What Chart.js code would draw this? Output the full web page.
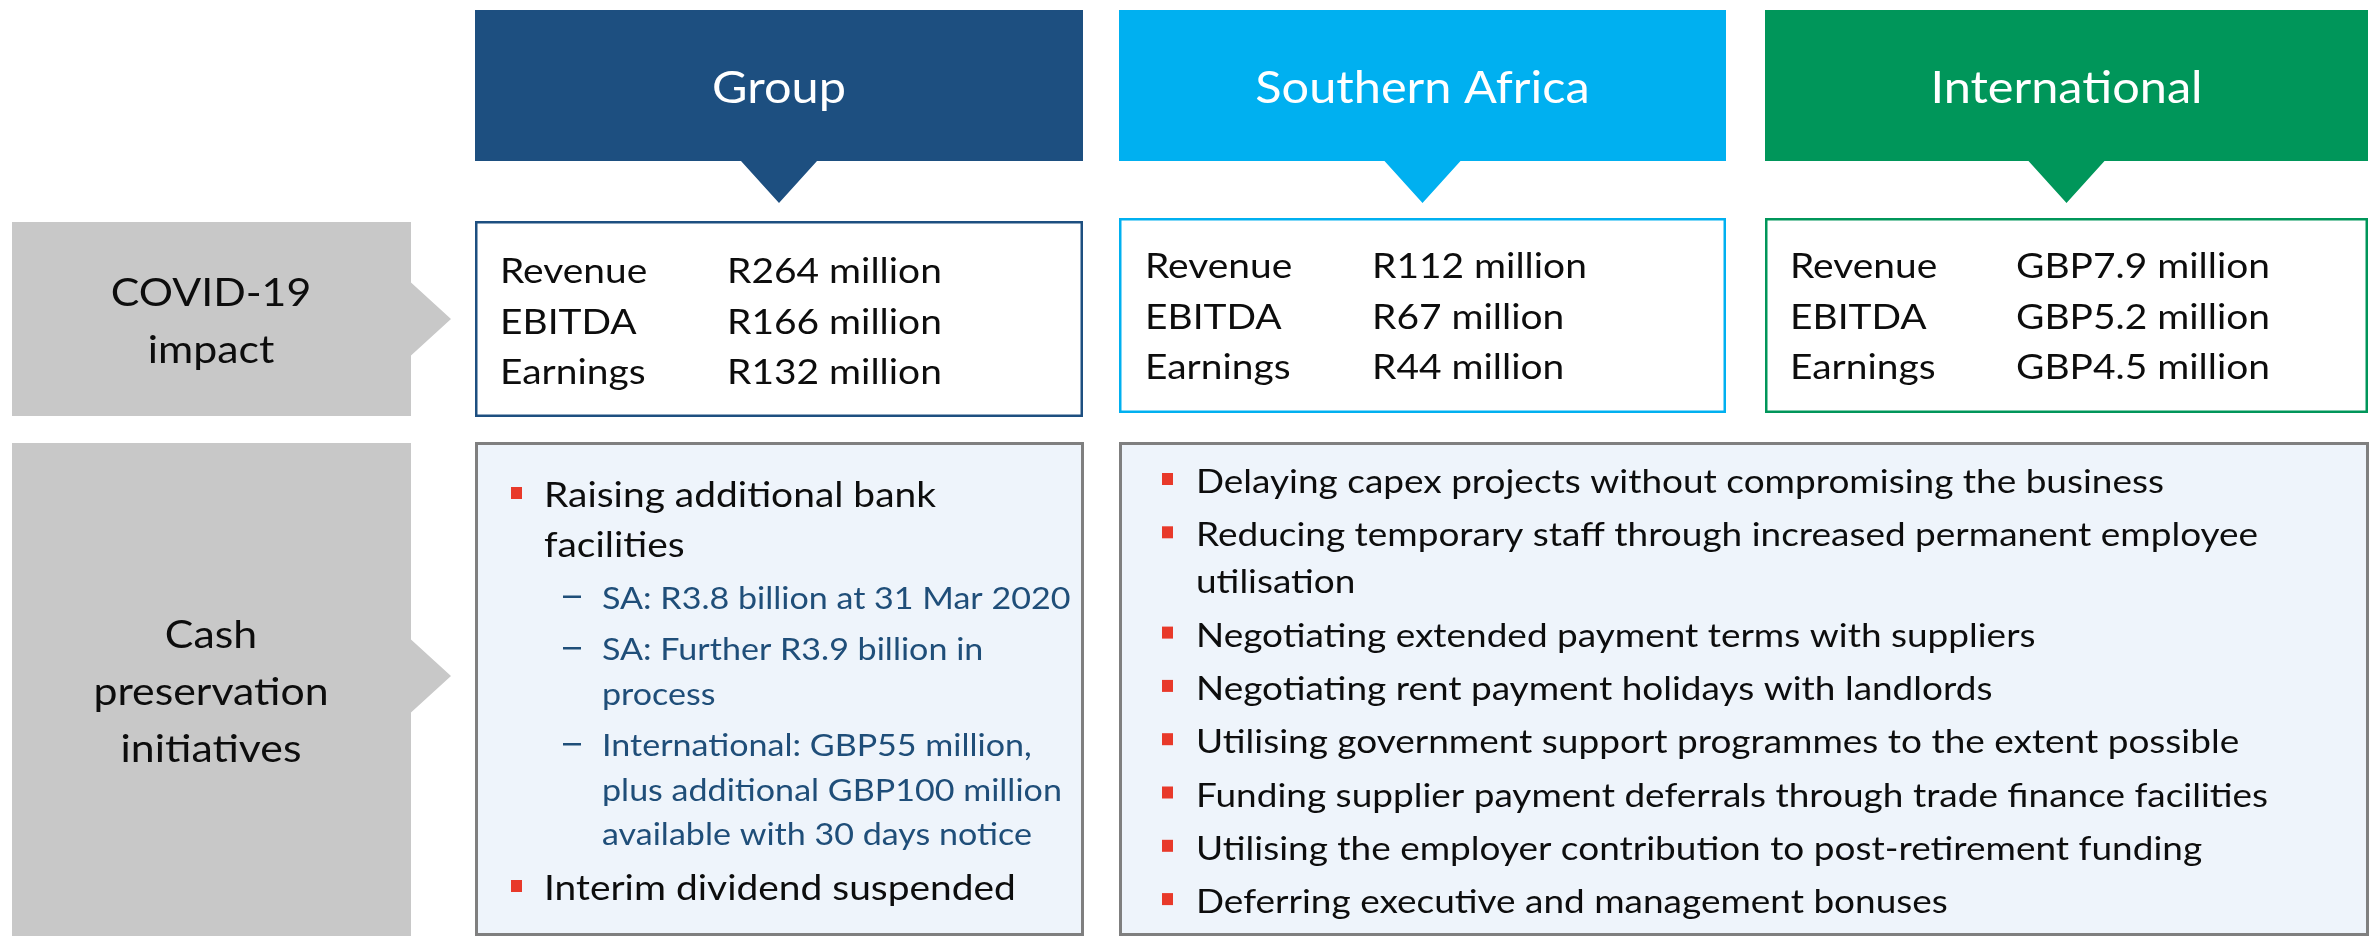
<!DOCTYPE html>
<html>
<head>
<meta charset="utf-8">
<script src="https://cdn.jsdelivr.net/npm/chart.js@4.4.1/dist/chart.umd.min.js"></script>
<style>
  html, body { margin: 0; padding: 0; background: #fff; overflow: hidden; }
  canvas { display: block; }
</style>
</head>
<body>
<canvas id="slide" width="2369" height="936"></canvas>
<script>
// slide content
var segments = ["Group", "Southern Africa", "International"];
var metrics = ["Revenue", "EBITDA", "Earnings"];
var groupImpact = ["R264 million", "R166 million", "R132 million"];
var southernAfricaImpact = ["R112 million", "R67 million", "R44 million"];
var internationalImpact = ["GBP7.9 million", "GBP5.2 million", "GBP4.5 million"];
var rowLabels = [["COVID-19", "impact"], ["Cash", "preservation", "initiatives"]];
var groupInitiatives = [
  { level: 0, lines: ["Raising additional bank", "facilities"] },
  { level: 1, lines: ["SA: R3.8 billion at 31 Mar 2020"] },
  { level: 1, lines: ["SA: Further R3.9 billion in", "process"] },
  { level: 1, lines: ["International: GBP55 million,", "plus additional GBP100 million", "available with 30 days notice"] },
  { level: 0, lines: ["Interim dividend suspended"] }
];
var segmentInitiatives = [
  ["Delaying capex projects without compromising the business"],
  ["Reducing temporary staff through increased permanent employee", "utilisation"],
  ["Negotiating extended payment terms with suppliers"],
  ["Negotiating rent payment holidays with landlords"],
  ["Utilising government support programmes to the extent possible"],
  ["Funding supplier payment deferrals through trade finance facilities"],
  ["Utilising the employer contribution to post-retirement funding"],
  ["Deferring executive and management bonuses"]
];

var impacts = [groupImpact, southernAfricaImpact, internationalImpact];
var segmentColors = ["#1D4F80", "#00B0F0", "#00965A"];

// layout of the slide (pixels)
var columns = [
  { x0: 475, x1: 1083, boxTop: 221, boxBottom: 417, labelX: 500, valueX: 727, firstBase: 283 },
  { x0: 1119, x1: 1726, boxTop: 218, boxBottom: 413, labelX: 1145, valueX: 1372, firstBase: 278 },
  { x0: 1765, x1: 2368, boxTop: 218, boxBottom: 413, labelX: 1790, valueX: 2016, firstBase: 278 }
];
var rowBoxes = [
  { top: 222, bottom: 416, tipY: 319, firstBase: 306 },
  { top: 443, bottom: 936, tipY: 676, firstBase: 648 }
];

var FACE = "Lato";
var K = 0.88; // cap-height match to the original Calibri sizes

var slidePlugin = {
  id: "slide",
  afterDraw: function (chart) {
    var ctx = chart.ctx;
    var xs = chart.scales.x, ys = chart.scales.y;
    function X(v) { return xs.getPixelForValue(v); }
    function Y(v) { return ys.getPixelForValue(v); }

    ctx.font = (38 * K) + "px " + FACE;
    var squeeze = 968 / ctx.measureText("Delaying capex projects without compromising the business").width;

    function text(str, x, y, size, color, align) {
      ctx.save();
      ctx.font = (size * K).toFixed(2) + "px " + FACE;
      ctx.fillStyle = color;
      ctx.textBaseline = "alphabetic";
      ctx.textAlign = "left";
      var w = ctx.measureText(str).width * squeeze;
      var left = align === "center" ? X(x) - w / 2 : X(x);
      ctx.translate(left, Y(y));
      ctx.scale(squeeze, 1);
      ctx.fillText(str, 0, 0);
      ctx.restore();
    }
    function poly(pts, fill) {
      ctx.beginPath();
      ctx.moveTo(X(pts[0][0]), Y(pts[0][1]));
      for (var i = 1; i < pts.length; i++) ctx.lineTo(X(pts[i][0]), Y(pts[i][1]));
      ctx.closePath();
      ctx.fillStyle = fill;
      ctx.fill();
    }
    function box(x0, y0, x1, y1, fill, stroke, lw) {
      ctx.fillStyle = fill;
      ctx.fillRect(X(x0), Y(y0), X(x1) - X(x0), Y(y1) - Y(y0));
      ctx.strokeStyle = stroke;
      ctx.lineWidth = lw;
      ctx.strokeRect(X(x0) + lw / 2, Y(y0) + lw / 2, X(x1) - X(x0) - lw, Y(y1) - Y(y0) - lw);
    }

    // segment headers with pointer
    columns.forEach(function (c, i) {
      var cx = (c.x0 + c.x1) / 2;
      poly([[c.x0, 10], [c.x1, 10], [c.x1, 161], [cx + 38, 161], [cx, 203], [cx - 38, 161], [c.x0, 161]], segmentColors[i]);
      text(segments[i], cx, 103, 50, "#FFFFFF", "center");

      box(c.x0, c.boxTop, c.x1, c.boxBottom, "#FFFFFF", segmentColors[i], 2.5);
      metrics.forEach(function (m, r) {
        var base = c.firstBase + r * 50.5;
        text(m, c.labelX, base, 40, "#0D0D0D");
        text(impacts[i][r], c.valueX, base, 40, "#0D0D0D");
      });
    });

    // grey row labels with arrows
    rowBoxes.forEach(function (b, i) {
      poly([[12, b.top], [411, b.top], [411, b.tipY - 36.5], [451, b.tipY], [411, b.tipY + 36.5], [411, b.bottom], [12, b.bottom]], "#C8C8C8");
      rowLabels[i].forEach(function (s, j) {
        text(s, 211, b.firstBase + j * 57, 44, "#0D0D0D", "center");
      });
    });

    // cash preservation boxes
    box(475, 442, 1084, 936, "#EEF4FB", "#7F7F7F", 3);
    box(1119, 442, 2369, 936, "#EEF4FB", "#7F7F7F", 3);

    function bullet(x, base) {
      ctx.fillStyle = "#E8392A";
      ctx.fillRect(X(x), Y(base - 20), 11, 12);
    }

    // group initiatives
    var y = 457;
    groupInitiatives.forEach(function (p, i) {
      var lh = p.level === 0 ? 50 : 44.5;
      var before = i === 0 ? 0 : (p.level === 0 ? 5 : 7);
      p.lines.forEach(function (s, j) {
        y += (j === 0 ? before : 0) + lh;
        if (p.level === 0) {
          if (j === 0) bullet(511, y);
          text(s, 544, y, 40, "#0D0D0D");
        } else {
          if (j === 0) {
            ctx.fillStyle = "#1F4E79";
            ctx.fillRect(X(563), Y(y - 13), 18, 2.5);
          }
          text(s, 602, y, 35, "#1F4E79");
        }
      });
    });

    // segment initiatives
    y = 446;
    segmentInitiatives.forEach(function (lines, i) {
      lines.forEach(function (s, j) {
        y += (j === 0 && i > 0 ? 6.3 : 0) + 47;
        if (j === 0) bullet(1162, y);
        text(s, 1196, y, 38, "#0D0D0D");
      });
    });
  }
};

function build() {
  new Chart(document.getElementById("slide"), {
    type: "scatter",
    data: { datasets: [] },
    options: {
      responsive: false,
      animation: false,
      devicePixelRatio: 1,
      layout: { padding: 0 },
      plugins: { legend: { display: false }, tooltip: { enabled: false } },
      scales: {
        x: { type: "linear", min: 0, max: 2369, display: false },
        y: { type: "linear", min: 0, max: 936, reverse: true, display: false }
      }
    },
    plugins: [slidePlugin]
  });
}

if (document.fonts && document.fonts.load) {
  document.fonts.load("40px " + FACE).then(build, build);
} else {
  build();
}
</script>
</body>
</html>
